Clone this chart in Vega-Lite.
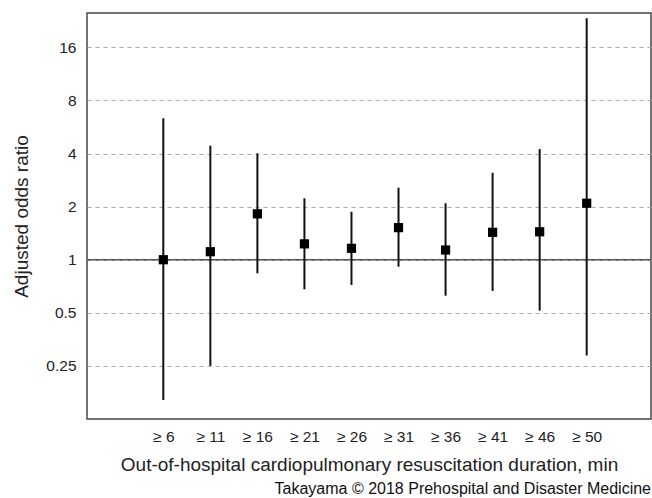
{
  "$schema": "https://vega.github.io/schema/vega-lite/v6.json",
  "width": 564,
  "height": 406,
  "autosize": "none",
  "padding": {"left": 87, "top": 13, "right": 1, "bottom": 79},
  "background": "white",
  "config": {
    "font": "Liberation Sans",
    "view": {"stroke": "#444444", "strokeWidth": 1.5},
    "axis": {"labelFont": "Liberation Sans", "titleFont": "Liberation Sans", "labelColor": "#222222", "titleColor": "#222222", "titleFontWeight": "normal"}
  },
  "title": {"text": "Takayama © 2018 Prehospital and Disaster Medicine", "orient": "bottom", "anchor": "end", "frame": "group", "fontSize": 16, "fontWeight": "normal", "font": "Liberation Sans", "color": "#111111", "offset": 6},
  "data": {"values": [
    {"idx": 1, "label": "≥ 6", "or": 1.0, "lo": 0.16, "hi": 6.33},
    {"idx": 2, "label": "≥ 11", "or": 1.11, "lo": 0.25, "hi": 4.43},
    {"idx": 3, "label": "≥ 16", "or": 1.82, "lo": 0.837, "hi": 4.01},
    {"idx": 4, "label": "≥ 21", "or": 1.23, "lo": 0.679, "hi": 2.23},
    {"idx": 5, "label": "≥ 26", "or": 1.16, "lo": 0.719, "hi": 1.87},
    {"idx": 6, "label": "≥ 31", "or": 1.52, "lo": 0.913, "hi": 2.56},
    {"idx": 7, "label": "≥ 36", "or": 1.135, "lo": 0.625, "hi": 2.09},
    {"idx": 8, "label": "≥ 41", "or": 1.43, "lo": 0.665, "hi": 3.11},
    {"idx": 9, "label": "≥ 46", "or": 1.44, "lo": 0.514, "hi": 4.24},
    {"idx": 10, "label": "≥ 50", "or": 2.09, "lo": 0.286, "hi": 23.4}
  ]},
  "encoding": {
    "x": {
      "field": "idx", "type": "quantitative",
      "scale": {"domain": [-0.622, 11.367], "nice": false, "zero": false},
      "axis": {
        "values": [1, 2, 3, 4, 5, 6, 7, 8, 9, 10],
        "labelExpr": "['≥ 6','≥ 11','≥ 16','≥ 21','≥ 26','≥ 31','≥ 36','≥ 41','≥ 46','≥ 50'][datum.value - 1]",
        "title": "Out-of-hospital cardiopulmonary resuscitation duration, min",
        "grid": false, "ticks": false, "domain": false,
        "labelFontSize": 15.5, "labelPadding": 10, "titleFontSize": 19, "titlePadding": 11
      }
    }
  },
  "layer": [
    {
      "data": {"values": [{"v": 1}]},
      "mark": {"type": "rule", "color": "#555555", "strokeWidth": 1.5},
      "encoding": {
        "x": null,
        "y": {"field": "v", "type": "quantitative", "scale": {"type": "log", "base": 2, "domain": [0.125, 25.04], "nice": false},
          "axis": {
            "values": [0.25, 0.5, 1, 2, 4, 8, 16],
            "title": "Adjusted odds ratio",
            "grid": true, "gridDash": [4, 4], "gridColor": "#aaaaaa", "gridWidth": 1,
            "ticks": false, "domain": false,
            "labelFontSize": 15.5, "labelPadding": 11, "titleFontSize": 19, "titlePadding": 14
          }
        }
      }
    },
    {
      "mark": {"type": "rule", "color": "#111111", "strokeWidth": 2},
      "encoding": {
        "y": {"field": "lo", "type": "quantitative"},
        "y2": {"field": "hi"}
      }
    },
    {
      "mark": {"type": "square", "color": "#000000", "filled": true, "opacity": 1, "size": 85},
      "encoding": {
        "y": {"field": "or", "type": "quantitative"}
      }
    }
  ]
}
